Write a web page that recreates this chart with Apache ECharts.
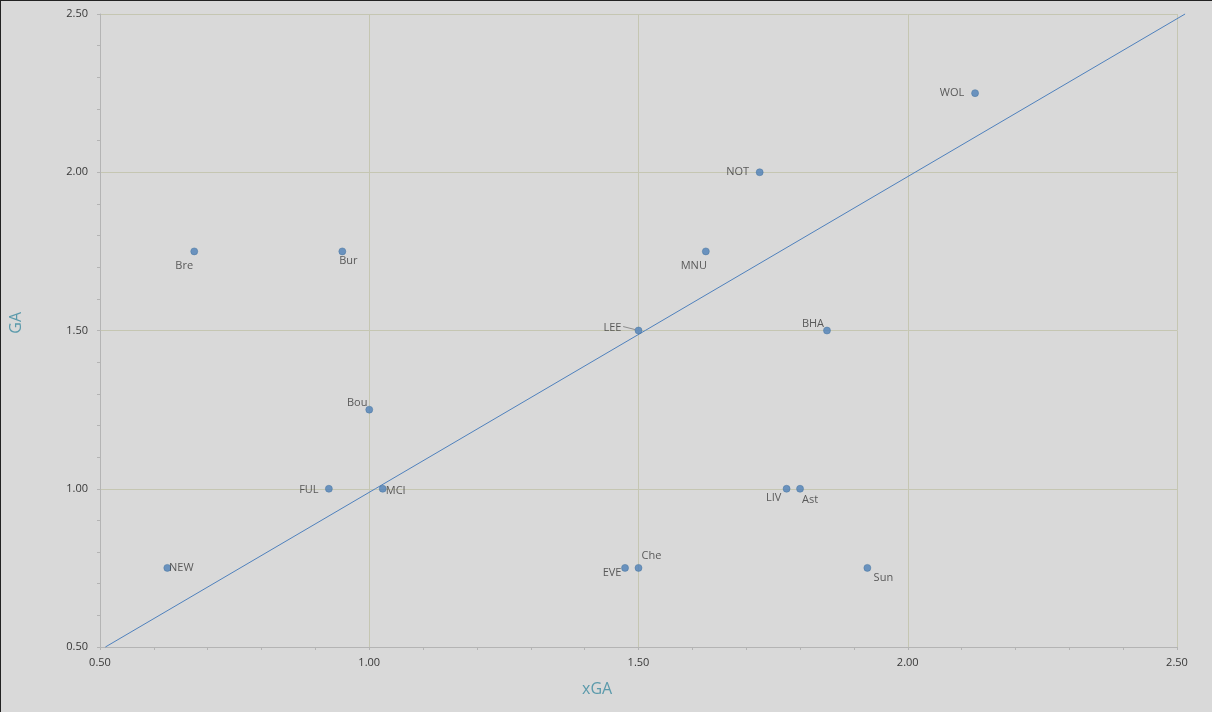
<!DOCTYPE html>
<html><head><meta charset="utf-8">
<script src="https://cdn.jsdelivr.net/npm/echarts@6/dist/echarts.min.js"></script>
<style>
html,body{margin:0;padding:0;background:#d9d9d9;}
#c{width:1212px;height:712px;box-sizing:border-box;border-top:1px solid #222;border-left:1px solid #222;}
</style></head>
<body><div id="c"></div>
<script>
const teams = ["WOL","NOT","MNU","Bre","Bur","LEE","BHA","Bou","FUL","MCI","LIV","Ast","NEW","EVE","Che","Sun"];
const xGA  = [2.125,1.725,1.625,0.675,0.95,1.5,1.85,1.0,0.925,1.025,1.775,1.8,0.625,1.475,1.5,1.925];
const GA   = [2.25,2.0,1.75,1.75,1.75,1.5,1.5,1.25,1.0,1.0,1.0,1.0,0.75,0.75,0.75,0.75];
const trendX = [0.51, 2.515];
const trendY = [0.50, 2.50];
const axisTicks = [0.5, 1.0, 1.5, 2.0, 2.5];

// label placement (styling only)
const labelOffsets = {
  WOL:[-23,0], NOT:[-22,0], MNU:[-12,14], Bre:[-10,14], Bur:[6,9], LEE:[-26,-3],
  BHA:[-14,-7], Bou:[-12,-7], FUL:[-20,1], MCI:[13,2], LIV:[-13,9], Ast:[10,11],
  NEW:[14,0], EVE:[-13,5], Che:[13,-12], Sun:[16,10]
};

const chart = echarts.init(document.getElementById('c'));
const txt = '#383838';
const axisCommon = {
  type:'value', min:axisTicks[0], max:axisTicks[axisTicks.length-1], interval:0.5,
  axisLine:{show:true, lineStyle:{color:'#b4b4b4', width:1}},
  axisTick:{show:true, length:3, lineStyle:{color:'#b4b4b4'}},
  minorTick:{show:true, splitNumber:5, length:3, lineStyle:{color:'#b4b4b4'}},
  splitLine:{show:true, lineStyle:{color:'#c5c6b2', width:1}},
  axisLabel:{color:txt, fontSize:11, fontFamily:'Open Sans', formatter:v=>v.toFixed(2)}
};
chart.setOption({
  backgroundColor:'#d9d9d9',
  animation:false,
  grid:{left:99, right:35, top:13, bottom:65},
  xAxis:Object.assign({}, axisCommon, {axisLabel:Object.assign({}, axisCommon.axisLabel, {margin:10})}),
  yAxis:Object.assign({}, axisCommon, {axisLabel:Object.assign({}, axisCommon.axisLabel, {margin:12})}),
  graphic:[
    {type:'text', left:581, top:680, style:{text:'xGA', fill:'#5b9aab', font:'16px "Open Sans"'}},
    {type:'text', left:7, top:311, rotation:Math.PI/2, style:{text:'GA', fill:'#5b9aab', font:'16px "Open Sans"'}}
  ],
  series:[
    {
      type:'custom', clip:false, silent:true, z:2,
      data:[[trendX[0],trendY[0],trendX[1],trendY[1]]],
      renderItem:function(params, api){
        const p1 = api.coord([api.value(0), api.value(1)]);
        const p2 = api.coord([api.value(2), api.value(3)]);
        return {type:'line', shape:{x1:p1[0], y1:p1[1], x2:p2[0], y2:p2[1]},
          style:{stroke:'#4f81bd', lineWidth:1}};
      },
      encode:{x:[0,2], y:[1,3]}
    },
    {
      type:'scatter', symbolSize:7, z:3,
      itemStyle:{color:'#4d7fb6', borderColor:'#46739f', borderWidth:0.6},
      data:teams.map((t,i)=>({name:t, value:[xGA[i], GA[i]],
          label:{show:true, position:'inside', offset:labelOffsets[t], formatter:'{b}',
            color:txt, fontSize:11, fontFamily:'Open Sans'}}))
    },
    {
      // leader line for LEE label
      type:'line', symbol:'none', silent:true, z:2,
      data:[[1.4715,1.5125],[1.4935,1.503]],
      lineStyle:{color:'#8c8c8c', width:1}
    }
  ]
});
</script></body></html>
